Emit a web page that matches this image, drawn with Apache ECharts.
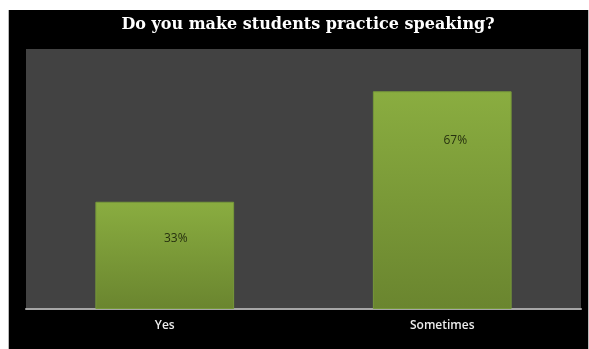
<!DOCTYPE html>
<html>
<head>
<meta charset="utf-8">
<style>
  html, body { margin: 0; padding: 0; background: #ffffff; }
  #chart { width: 589px; height: 349px; }
</style>
<script src="https://cdn.jsdelivr.net/npm/echarts@6/dist/echarts.min.js"></script>
</head>
<body>
<div id="chart"></div>
<script>
// Survey answers and their shares (percent)
const categories = ['Yes', 'Sometimes'];
const shares = [33, 67];
const chartTitle = 'Do you make students practice speaking?';

// Per-bar label nudges inside each bar
const labelOffsets = [[11, 26], [13, 38]];

const chart = echarts.init(document.getElementById('chart'), null, { renderer: 'canvas' });

const barFill = new echarts.graphic.LinearGradient(0, 0, 0, 1, [
  { offset: 0, color: '#8aad40' },
  { offset: 1, color: '#6a852f' }
]);

chart.setOption({
  backgroundColor: '#ffffff',
  animation: false,
  graphic: [
    {
      type: 'rect',
      z: -10,
      shape: { x: 8, y: 10, width: 581, height: 339 },
      style: { fill: '#b8b8b8' }
    },
    {
      type: 'rect',
      z: -9,
      shape: { x: 9, y: 10, width: 579, height: 339 },
      style: { fill: '#000000' }
    }
  ],
  title: {
    text: chartTitle,
    left: 303,
    textAlign: 'center',
    top: 12,
    textStyle: {
      color: '#ffffff',
      fontFamily: 'DejaVu Serif',
      fontWeight: 'bold',
      fontSize: 16
    }
  },
  grid: {
    left: 26, right: 8, top: 49, bottom: 40,
    show: true,
    backgroundColor: '#424242',
    borderWidth: 0,
    shadowColor: 'rgba(0,0,0,0.6)',
    shadowBlur: 4,
    shadowOffsetX: -1
  },
  xAxis: {
    type: 'category',
    data: categories,
    axisLine: { show: true, lineStyle: { color: '#a6a6a6', width: 2 } },
    axisTick: { show: false },
    axisLabel: {
      color: '#ececec',
      fontFamily: 'Open Sans',
      fontWeight: 600,
      fontSize: 12,
      margin: 11
    }
  },
  yAxis: {
    type: 'value',
    min: 0,
    max: 80,
    show: false,
    splitLine: { show: false }
  },
  series: [{
    type: 'bar',
    barWidth: '50%',
    data: shares.map((v, i) => ({
      value: v,
      label: { offset: labelOffsets[i] }
    })),
    itemStyle: {
      color: barFill,
      borderColor: '#76983a',
      borderWidth: 1
    },
    label: {
      show: true,
      position: 'insideTop',
      formatter: '{c}%',
      color: '#26300f',
      fontFamily: 'Open Sans',
      fontSize: 12
    }
  }]
});
</script>
</body>
</html>
